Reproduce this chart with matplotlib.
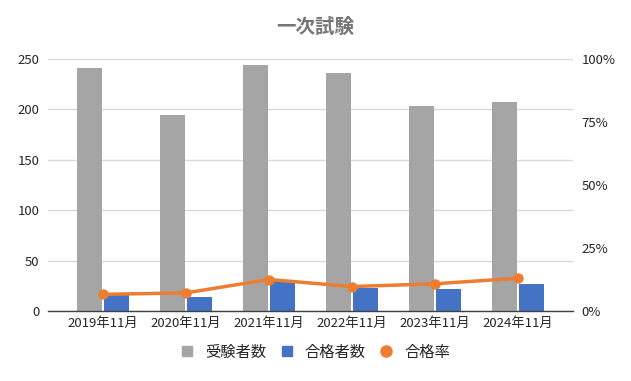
import matplotlib
matplotlib.use("Agg")
import matplotlib.pyplot as plt
import numpy as np
from matplotlib.ticker import FuncFormatter
from matplotlib.lines import Line2D

plt.rcParams['font.family'] = ['Noto Sans CJK JP', 'DejaVu Sans']

categories = ["2019年11月", "2020年11月", "2021年11月", "2022年11月", "2023年11月", "2024年11月"]
examinees = [241, 194, 244, 236, 203, 207]
passers = [16, 14, 30, 23, 22, 27]
pass_rate = [0.066, 0.072, 0.125, 0.097, 0.108, 0.130]

c_grey = "#a5a5a5"
c_blue = "#4472c4"
c_orange = "#ed7d31"
c_text = "#262626"

fig = plt.figure(figsize=(6.31, 3.81), dpi=100)
ax = fig.add_axes([48/631, 1-311/381, (573-48)/631, (311-59)/381])
x = np.arange(len(categories))
w = 0.297
ax.bar(x - 0.164, examinees, width=w, color=c_grey, zorder=2)
ax.bar(x + 0.162, passers, width=w, color=c_blue, zorder=2)
ax.set_ylim(0, 250)
ax.set_yticks([0, 50, 100, 150, 200, 250])
ax.set_xlim(-0.663, len(categories) - 1 + 0.663)
ax.set_xticks(x)
ax.set_xticklabels(categories)
ax.yaxis.grid(True, color="#d9d9d9", linewidth=1)
ax.set_axisbelow(True)
for s in ["top", "right", "left"]:
    ax.spines[s].set_visible(False)
ax.spines["bottom"].set_color("#404040")
ax.spines["bottom"].set_linewidth(1)
ax.tick_params(axis="both", length=0, labelsize=9.5, colors=c_text)
ax.tick_params(axis="y", pad=6)
ax.tick_params(axis="x", pad=4)

ax2 = ax.twinx()
ax2.plot(x, pass_rate, color=c_orange, linewidth=2.5, marker="o", markersize=6.5, zorder=3)
ax2.set_ylim(0, 1)
ax2.set_yticks([0, 0.25, 0.5, 0.75, 1.0])
ax2.yaxis.set_major_formatter(FuncFormatter(lambda v, p: f"{int(round(v*100))}%"))
for s in ["top", "right", "left", "bottom"]:
    ax2.spines[s].set_visible(False)
ax2.tick_params(axis="y", length=0, labelsize=9.5, colors=c_text, pad=6)

fig.text(0.5, 1-27/381, "一次試験", ha="center", va="center", fontsize=14, fontweight="bold", color="#757575")

handles = [
    Line2D([], [], marker="s", linestyle="none", color=c_grey, markersize=7),
    Line2D([], [], marker="s", linestyle="none", color=c_blue, markersize=7),
    Line2D([], [], marker="o", linestyle="none", color=c_orange, markersize=8),
]
fig.legend(handles, ["受験者数", "合格者数", "合格率"], loc="center", bbox_to_anchor=(0.5, 1-352/381),
           ncol=3, frameon=False, fontsize=11, handlelength=0.8, handletextpad=0.8,
           columnspacing=0.9, labelcolor=c_text)

fig.savefig("out.png", dpi=100, facecolor="white")
